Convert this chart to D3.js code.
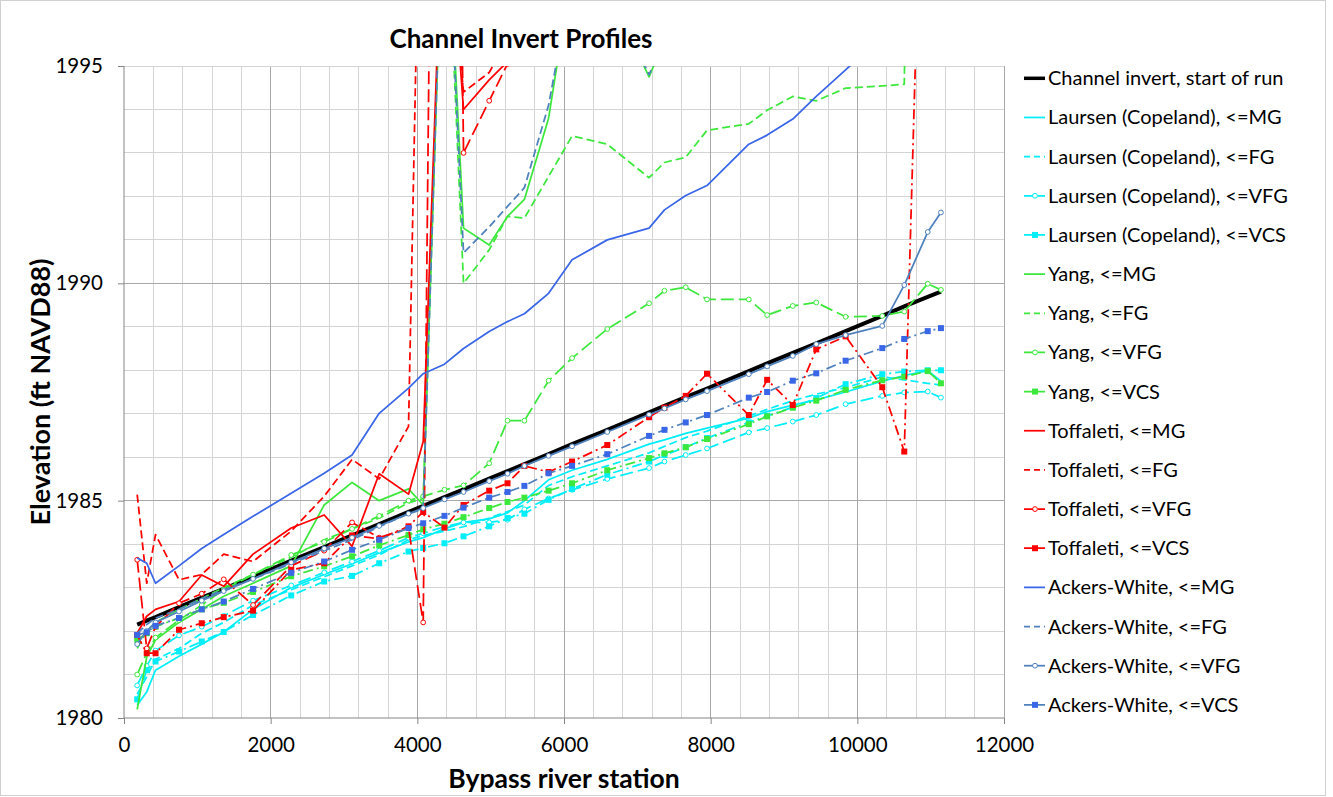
<!DOCTYPE html>
<html lang="en">
<head>
<meta charset="UTF-8">
<title>Channel Invert Profiles</title>
<script src="https://cdnjs.cloudflare.com/ajax/libs/d3/7.8.5/d3.min.js"></script>
<style>
  body { margin: 0; background: #fff; font-family: Lato, "Open Sans", sans-serif; }
  svg text { fill: #000; }
</style>
</head>
<body>
<div id="chart"></div>
<script>
// bypass river stations (ft)
const stations = [180, 310, 430, 750, 1060, 1360, 1760, 2280, 2730, 3110, 3480, 3880, 4080, 4370, 4630, 4980, 5230,
  5460, 5790, 6110, 6590, 7160, 7370, 7660, 7950, 8520, 8770, 9120, 9440, 9840, 10340, 10640, 10960, 11140];

// elevations (ft NAVD88), values above 1995 run off the top of the plot
const channelInvert = [1982.15, 1982.24, 1982.32, 1982.55, 1982.77, 1982.97, 1983.25, 1983.62, 1983.93, 1984.20, 1984.46, 1984.74, 1984.88, 1985.08, 1985.26, 1985.51, 1985.68,
  1985.84, 1986.07, 1986.30, 1986.63, 1987.03, 1987.18, 1987.38, 1987.58, 1987.98, 1988.16, 1988.40, 1988.62, 1988.90, 1989.25, 1989.47, 1989.69, 1989.81];

const laursenMG = [1980.3, 1980.6, 1981.1, 1981.42, 1981.7, 1981.98, 1982.5, 1983.0, 1983.3, 1983.55, 1983.8, 1984.05, 1984.15, 1984.35, 1984.5, 1984.58, 1984.72,
  1985.0, 1985.48, 1985.7, 1985.95, 1986.3, 1986.4, 1986.55, 1986.67, 1986.9, 1987.05, 1987.2, 1987.32, 1987.5, 1987.75, 1987.88, 1987.99, 1987.75];
const laursenFG = [1980.55, 1980.95, 1981.35, 1981.6, 1981.95, 1982.2, 1982.6, 1982.95, 1983.25, 1983.5, 1983.75, 1984.1, 1984.2, 1984.3, 1984.4, 1984.6, 1984.75,
  1984.9, 1985.35, 1985.55, 1985.8, 1986.1, 1986.25, 1986.45, 1986.6, 1986.95, 1987.1, 1987.3, 1987.45, 1987.6, 1987.85, 1987.78, 1987.7, 1987.66];
const laursenVFG = [1980.75, 1981.2, 1981.55, 1981.9, 1982.1, 1982.35, 1982.7, 1983.05, 1983.35, 1983.6, 1983.85, 1984.15, 1984.25, 1984.4, 1984.5, 1984.5, 1984.56,
  1984.8, 1985.05, 1985.25, 1985.5, 1985.75, 1985.9, 1986.05, 1986.2, 1986.57, 1986.67, 1986.82, 1986.97, 1987.22, 1987.41, 1987.49, 1987.51, 1987.37];
const laursenVCS = [1980.43, 1981.1, 1981.3, 1981.53, 1981.76, 1981.98, 1982.37, 1982.82, 1983.14, 1983.27, 1983.56, 1983.83, 1983.91, 1984.02, 1984.18, 1984.41, 1984.6,
  1984.7, 1985.02, 1985.27, 1985.6, 1985.9, 1986.05, 1986.23, 1986.44, 1986.8, 1986.95, 1987.15, 1987.36, 1987.68, 1987.91, 1987.97, 1988.0, 1988.0];

const yangMG = [1980.2, 1981.4, 1981.8, 1982.2, 1982.5, 1982.8, 1983.1, 1983.5, 1984.9, 1985.42, 1985.0, 1985.27, 1984.9, 2000, 1991.27, 1990.88, 1991.54,
  1991.93, 1993.8, 1997.2, 1996.8, 1994.75, 1995.6, 1996.5, 1997, 1997.5, 1998, 1998.5, 1999, 1999.5, 2000, 2000.5, 2001, 2001.5];
const yangFG = [1981.6, 1982.0, 1982.2, 1982.5, 1982.75, 1983.0, 1983.3, 1983.7, 1984.1, 1984.35, 1984.6, 1984.95, 1985.05, 2000, 1990.0, 1990.77, 1991.54,
  1991.5, 1992.46, 1993.39, 1993.2, 1992.43, 1992.78, 1992.9, 1993.52, 1993.67, 1993.98, 1994.3, 1994.2, 1994.49, 1994.54, 1994.58, 2030, 2030];
const yangVFG = [1981.0, 1981.5, 1981.85, 1982.25, 1982.6, 1982.95, 1983.3, 1983.75, 1984.05, 1984.35, 1984.65, 1985.0, 1985.1, 1985.25, 1985.35, 1985.86, 1986.84,
  1986.84, 1987.76, 1988.28, 1988.95, 1989.54, 1989.83, 1989.91, 1989.63, 1989.63, 1989.27, 1989.48, 1989.56, 1989.23, 1989.25, 1989.35, 1989.99, 1989.85];
const yangVCS = [1981.8, 1981.95, 1982.1, 1982.3, 1982.5, 1982.65, 1982.9, 1983.26, 1983.49, 1983.72, 1983.97, 1984.21, 1984.34, 1984.47, 1984.62, 1984.83, 1984.97,
  1985.07, 1985.23, 1985.4, 1985.7, 1985.98, 1986.09, 1986.23, 1986.42, 1986.76, 1986.94, 1987.14, 1987.3, 1987.55, 1987.77, 1987.85, 1987.98, 1987.7];

const toffMG = [1981.95, 1982.34, 1982.5, 1982.68, 1983.29, 1983.03, 1983.77, 1984.37, 1984.67, 1983.95, 1985.62, 1985.15, 1986.36, 2000, 1994.0, 1994.68, 1995.1,
  1995.8, 1996.5, 1997, 1997.5, 1998, 1998.3, 1998.6, 1999, 1999.5, 2000, 2000.5, 2001, 2001.5, 2002, 2002.5, 2003, 2003.5];
const toffFG = [1985.14, 1983.1, 1984.22, 1983.18, 1983.3, 1983.77, 1983.6, 1984.3, 1985.1, 1985.95, 1985.5, 1986.71, 2003.5, 1999, 1994.4, 1994.85, 1995.6,
  1996.2, 1997, 1997.5, 1998, 1998.5, 1999, 1999.5, 2000, 2000.5, 2001, 2001.5, 2002, 2002.5, 2003, 2003.5, 2004, 2004.5];
const toffVFG = [1983.64, 1981.6, 1982.1, 1982.64, 1982.86, 1983.19, 1982.6, 1983.5, 1983.85, 1984.5, 1984.15, 1984.37, 1982.2, 2030, 1993.0, 1994.2, 1995.05,
  1995.8, 1996.5, 1997, 1997.5, 1998, 1998.5, 1999, 1999.5, 2000, 2000.5, 2001, 2001.5, 2002, 2002.5, 2003, 2003.5, 2004];
const toffVCS = [1981.91, 1981.49, 1981.49, 1982.03, 1982.18, 1982.32, 1982.47, 1983.41, 1983.56, 1984.2, 1984.12, 1984.41, 1984.74, 1984.38, 1984.9, 1985.23, 1985.4,
  1985.8, 1985.66, 1985.9, 1986.28, 1986.92, 1987.14, 1987.41, 1987.92, 1986.97, 1987.78, 1987.2, 1988.48, 1988.78, 1987.61, 1986.13, 2005, 2005];

const ackersMG = [1983.68, 1983.56, 1983.1, 1983.5, 1983.9, 1984.22, 1984.64, 1985.17, 1985.63, 1986.05, 1987.01, 1987.59, 1987.92, 1988.14, 1988.5, 1988.89, 1989.12,
  1989.3, 1989.77, 1990.54, 1991.0, 1991.27, 1991.69, 1992.02, 1992.25, 1993.2, 1993.41, 1993.78, 1994.3, 1994.91, 1995.7, 1996.1, 1996.5, 1996.8];
const ackersFG = [1981.95, 1982.15, 1982.3, 1982.5, 1982.75, 1982.95, 1983.2, 1983.55, 1983.85, 1984.1, 1984.4, 1984.7, 1984.8, 2000, 1990.7, 1991.3, 1991.77,
  1992.2, 1994.1, 1997, 1996.8, 1994.8, 1995.6, 1996.5, 1997, 1997.5, 1998, 1998.5, 1999, 1999.5, 2000, 2000.5, 2001, 2001.5];
const ackersVFG = [1981.7, 1982.0, 1982.2, 1982.45, 1982.7, 1982.92, 1983.2, 1983.58, 1983.9, 1984.15, 1984.42, 1984.7, 1984.83, 1985.03, 1985.2, 1985.45, 1985.62,
  1985.8, 1986.03, 1986.25, 1986.58, 1986.98, 1987.12, 1987.33, 1987.52, 1987.91, 1988.09, 1988.33, 1988.6, 1988.81, 1989.02, 1989.96, 1991.18, 1991.63];
const ackersVCS = [1981.91, 1981.97, 1982.12, 1982.3, 1982.5, 1982.68, 1982.97, 1983.34, 1983.6, 1983.87, 1984.1, 1984.37, 1984.48, 1984.65, 1984.84, 1985.07, 1985.2,
  1985.34, 1985.63, 1985.8, 1986.07, 1986.49, 1986.63, 1986.8, 1986.97, 1987.37, 1987.5, 1987.76, 1987.93, 1988.22, 1988.51, 1988.72, 1988.9, 1988.97];

const seriesNames = ["Channel invert, start of run",
  "Laursen (Copeland), <=MG", "Laursen (Copeland), <=FG", "Laursen (Copeland), <=VFG", "Laursen (Copeland), <=VCS",
  "Yang, <=MG", "Yang, <=FG", "Yang, <=VFG", "Yang, <=VCS",
  "Toffaleti, <=MG", "Toffaleti, <=FG", "Toffaleti, <=VFG", "Toffaleti, <=VCS",
  "Ackers-White, <=MG", "Ackers-White, <=FG", "Ackers-White, <=VFG", "Ackers-White, <=VCS"];
const seriesValues = [channelInvert, laursenMG, laursenFG, laursenVFG, laursenVCS, yangMG, yangFG, yangVFG, yangVCS,
  toffMG, toffFG, toffVFG, toffVCS, ackersMG, ackersFG, ackersVFG, ackersVCS];

const xTicks = [0, 2000, 4000, 6000, 8000, 10000, 12000];
const yTicks = [1980, 1985, 1990, 1995];

// ---- styles ----
const CYAN = "#00eef8", GREEN = "#3de83d", RED = "#ff0000", BLUE = "#3a66e8", STEEL = "#4f81bd";
const SOLID = null, SHORT = "8,4", LONG = "13,5", DASHDOT = "10,4,2,4";
const styles = [
  {color: "#000", dash: SOLID, w: 4},
  {color: CYAN, dash: SOLID}, {color: CYAN, dash: SHORT}, {color: CYAN, dash: LONG, marker: "circle"}, {color: CYAN, dash: DASHDOT, marker: "square"},
  {color: GREEN, dash: SOLID}, {color: GREEN, dash: SHORT}, {color: GREEN, dash: LONG, marker: "circle"}, {color: GREEN, dash: DASHDOT, marker: "square"},
  {color: RED, dash: SOLID}, {color: RED, dash: SHORT}, {color: RED, dash: LONG, marker: "circle"}, {color: RED, dash: DASHDOT, marker: "square"},
  {color: BLUE, dash: SOLID}, {color: STEEL, dash: SHORT}, {color: STEEL, dash: SOLID, marker: "circle"}, {color: STEEL, dash: DASHDOT, marker: "square", mColor: BLUE}
];

const series = seriesNames.map((name, i) => ({
  name: name,
  points: stations.map((s, j) => ({s: s, v: seriesValues[i][j]})),
  style: styles[i]
}));

const W = 1333, H = 797;
const plot = {left: 124, top: 66, right: 1004, bottom: 718};

const svg = d3.select("#chart").append("svg")
  .attr("width", W).attr("height", H);

svg.append("rect").attr("x", 0.5).attr("y", 0.5).attr("width", 1325).attr("height", 795)
  .attr("fill", "#fff").attr("stroke", "#d0d0d0");

const x = d3.scaleLinear().domain([0, 12000]).range([plot.left, plot.right]);
const y = d3.scaleLinear().domain([1980, 1995]).range([plot.bottom, plot.top]);

// gridlines: minor every 400 ft / 1 ft, major at the ticks
const grid = svg.append("g").attr("shape-rendering", "crispEdges");
grid.selectAll(".vminor").data(d3.range(400, 12000, 400).filter(d => d % 2000 !== 0))
  .join("line").attr("x1", d => x(d)).attr("x2", d => x(d)).attr("y1", plot.top).attr("y2", plot.bottom)
  .attr("stroke", "#d4d4d4");
grid.selectAll(".hminor").data(d3.range(1981, 1995).filter(d => d % 5 !== 0))
  .join("line").attr("x1", plot.left).attr("x2", plot.right).attr("y1", d => y(d)).attr("y2", d => y(d))
  .attr("stroke", "#d4d4d4");
grid.selectAll(".vmajor").data(xTicks.slice(1))
  .join("line").attr("x1", d => x(d)).attr("x2", d => x(d)).attr("y1", plot.top).attr("y2", plot.bottom)
  .attr("stroke", "#a8a8a8");
grid.selectAll(".hmajor").data(yTicks.slice(1))
  .join("line").attr("x1", plot.left).attr("x2", plot.right).attr("y1", d => y(d)).attr("y2", d => y(d))
  .attr("stroke", d => d === 1995 ? "#d4d4d4" : "#a8a8a8");

// axes
const xAxis = svg.append("g").attr("transform", `translate(0,${plot.bottom})`)
  .call(d3.axisBottom(x).tickValues(xTicks).tickSize(6).tickPadding(13).tickFormat(d3.format("d")));
const yAxis = svg.append("g").attr("transform", `translate(${plot.left},0)`)
  .call(d3.axisLeft(y).tickValues(yTicks).tickSize(6).tickPadding(15).tickFormat(d3.format("d")));
[xAxis, yAxis].forEach(a => {
  a.select(".domain").attr("stroke", "#868686");
  a.selectAll(".tick line").attr("stroke", "#868686");
  a.selectAll("text").attr("font-family", "Lato, sans-serif").attr("font-size", 20.5).attr("fill", "#000");
});
xAxis.select(".domain").attr("d", `M${plot.left},0H${plot.right}`);
yAxis.select(".domain").attr("d", `M0,${plot.top}V${plot.bottom}`);

// series
svg.append("clipPath").attr("id", "plot-clip").append("rect")
  .attr("x", plot.left).attr("y", plot.top).attr("width", plot.right - plot.left).attr("height", plot.bottom - plot.top);

const layer = svg.append("g").attr("clip-path", "url(#plot-clip)");
const line = d3.line().x(d => x(d.s)).y(d => y(d.v));

function drawMarker(g, kind, color, cx, cy) {
  if (kind === "circle") {
    g.append("circle").attr("cx", cx).attr("cy", cy).attr("r", 2.4)
      .attr("fill", "#fff").attr("stroke", color).attr("stroke-width", 1);
  } else if (kind === "square") {
    g.append("rect").attr("x", cx - 3).attr("y", cy - 3).attr("width", 6).attr("height", 6)
      .attr("fill", color);
  }
}

series.forEach(sr => {
  const st = sr.style;
  const g = layer.append("g");
  g.append("path").datum(sr.points)
    .attr("d", line)
    .attr("fill", "none")
    .attr("stroke", st.color)
    .attr("stroke-width", st.w || 1.75)
    .attr("stroke-dasharray", st.dash)
    .attr("stroke-linejoin", "round");
  if (st.marker) {
    sr.points.forEach(p => drawMarker(g, st.marker, st.mColor || st.color, x(p.s), y(p.v)));
  }
});

// titles
svg.append("text").attr("x", 521).attr("y", 48).attr("text-anchor", "middle")
  .attr("font-size", 26).attr("font-weight", "bold").text("Channel Invert Profiles");
svg.append("text").attr("x", (plot.left + plot.right) / 2).attr("y", 788).attr("text-anchor", "middle")
  .attr("font-size", 26.5).attr("font-weight", "bold").text("Bypass river station");
svg.append("text").attr("transform", `translate(50,${(plot.top + plot.bottom) / 2}) rotate(-90)`)
  .attr("text-anchor", "middle").attr("font-size", 27).attr("font-weight", "bold")
  .text("Elevation (ft NAVD88)");

// legend
const legend = svg.append("g");
series.forEach((sr, i) => {
  const ly = 78.3 + i * 39.16;
  const st = sr.style;
  const row = legend.append("g");
  row.append("line").attr("x1", 1024).attr("x2", 1045).attr("y1", ly).attr("y2", ly)
    .attr("stroke", st.color).attr("stroke-width", st.w ? 3.5 : 1.75)
    .attr("stroke-dasharray", st.dash === SHORT ? "6,4" : (st.dash === SOLID ? null : "10,4"));
  if (st.marker) drawMarker(row, st.marker, st.mColor || st.color, 1035, ly);
  row.append("text").attr("x", 1048).attr("y", ly).attr("dy", "0.35em")
    .attr("font-size", 20).text(sr.name);
});
</script>
</body>
</html>
